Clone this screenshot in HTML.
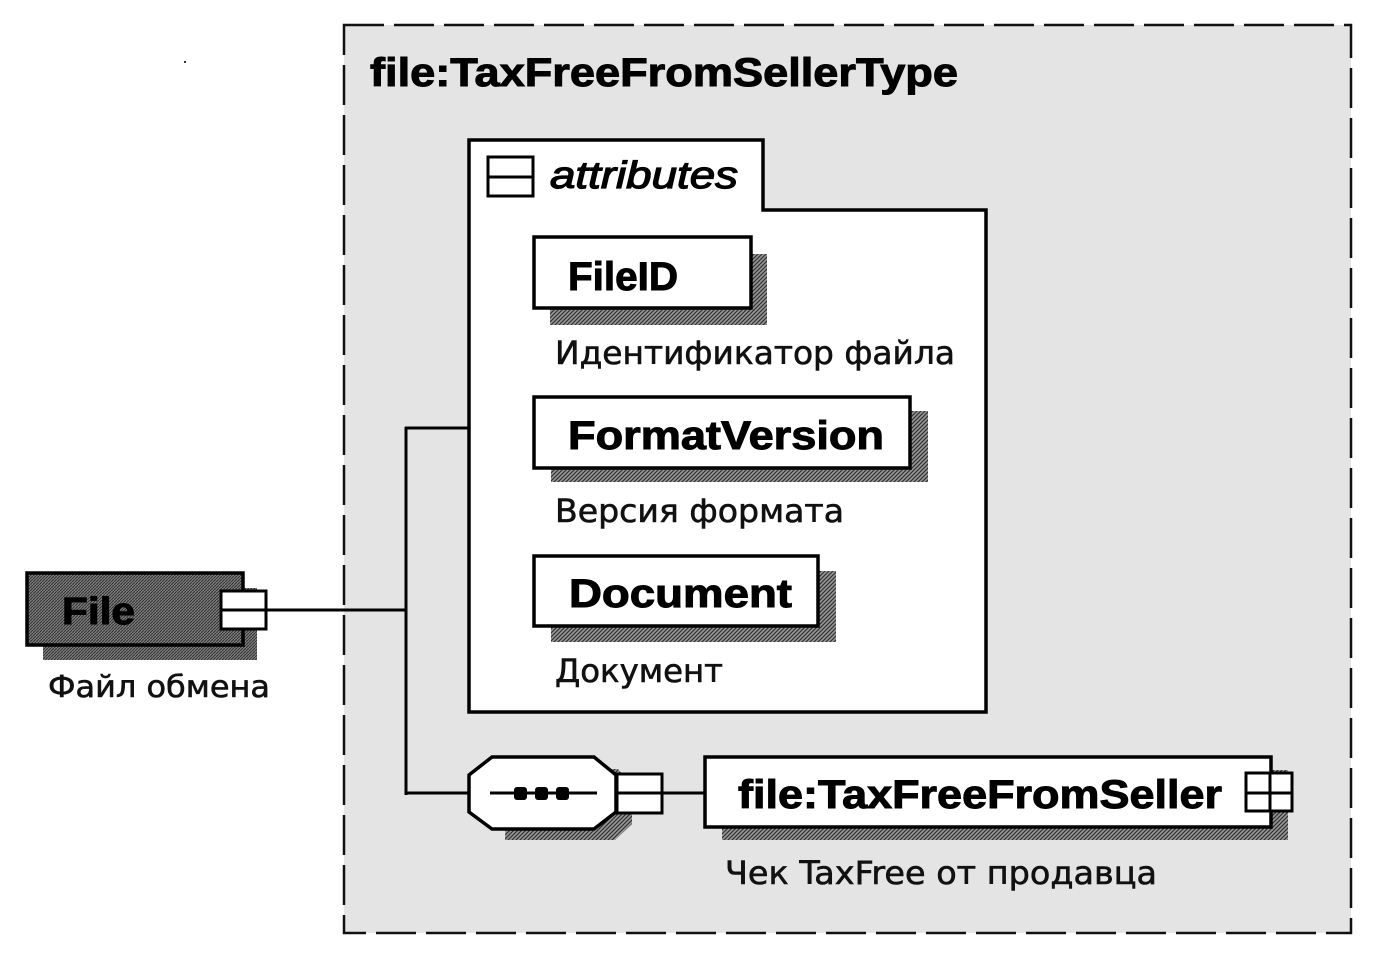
<!DOCTYPE html>
<html><head><meta charset="utf-8">
<style>
html,body{margin:0;padding:0;background:#fff;}
svg{display:block;}
.b{font-family:"Liberation Sans",sans-serif;font-weight:bold;fill:#000;stroke:#000;stroke-width:1;}
.d{font-family:"DejaVu Sans","Liberation Sans",sans-serif;fill:#111;stroke:#111;stroke-width:0.6;}
</style></head>
<body>
<svg width="1380" height="969" viewBox="0 0 1380 969" xmlns="http://www.w3.org/2000/svg">
<defs>
<pattern id="hatch" width="4" height="4" patternUnits="userSpaceOnUse">
<rect width="4" height="4" fill="#9a9a9a"/>
<path d="M0,4 L4,0 M-1,1 L1,-1 M3,5 L5,3" stroke="#333" stroke-width="1.3"/>
</pattern>
<pattern id="dark" width="3" height="3" patternUnits="userSpaceOnUse">
<rect width="3" height="3" fill="#7e7e7e"/>
<path d="M0,3 L3,0" stroke="#333" stroke-width="1.1"/>
</pattern>
</defs>

<!-- stray speck -->
<rect x="184" y="61" width="2" height="2" fill="#333"/>

<!-- dashed container -->
<rect x="344" y="25" width="1007" height="908" fill="#e4e4e4" stroke="#111" stroke-width="2.5" stroke-dasharray="40 10"/>

<text class="b" x="370" y="86" font-size="40" textLength="588" lengthAdjust="spacingAndGlyphs">file:TaxFreeFromSellerType</text>

<!-- connector lines -->
<line x1="267" y1="610" x2="407" y2="610" stroke="#000" stroke-width="3"/>
<line x1="406" y1="427" x2="406" y2="795" stroke="#000" stroke-width="3"/>
<line x1="405" y1="428" x2="470" y2="428" stroke="#000" stroke-width="3"/>
<line x1="405" y1="793" x2="470" y2="793" stroke="#000" stroke-width="3"/>
<line x1="663" y1="793" x2="706" y2="793" stroke="#000" stroke-width="3"/>

<!-- File element -->
<rect x="43" y="588" width="214" height="72" fill="url(#dark)"/>
<rect x="27" y="573" width="216" height="72" fill="url(#dark)" stroke="#000" stroke-width="3.5"/>
<text class="b" x="62" y="624" font-size="38" textLength="73" lengthAdjust="spacingAndGlyphs">File</text>
<rect x="221" y="591" width="45" height="38" fill="#fff" stroke="#000" stroke-width="3"/>
<line x1="222" y1="610" x2="265" y2="610" stroke="#000" stroke-width="3"/>
<text class="d" x="48" y="697" font-size="30" textLength="222" lengthAdjust="spacingAndGlyphs">Файл обмена</text>

<!-- attributes container -->
<path d="M469,140 L763,140 L763,210 L986,210 L986,712 L469,712 Z" fill="#fff" stroke="#000" stroke-width="3.5"/>
<rect x="488" y="157" width="45" height="39" fill="#fff" stroke="#000" stroke-width="3"/>
<line x1="489" y1="177" x2="532" y2="177" stroke="#000" stroke-width="3"/>
<text x="550" y="188" font-family="'Liberation Sans',sans-serif" font-style="italic" font-size="38" textLength="188" lengthAdjust="spacingAndGlyphs" fill="#000" stroke="#000" stroke-width="1.2">attributes</text>

<!-- FileID -->
<rect x="550" y="254" width="217" height="71" fill="url(#hatch)"/>
<rect x="534" y="237" width="217" height="71" fill="#fff" stroke="#000" stroke-width="3.5"/>
<text class="b" x="568" y="290" font-size="40" textLength="110" lengthAdjust="spacingAndGlyphs">FileID</text>
<text class="d" x="555" y="364" font-size="32" textLength="400" lengthAdjust="spacingAndGlyphs">Идентификатор файла</text>

<!-- FormatVersion -->
<rect x="551" y="411" width="377" height="71" fill="url(#hatch)"/>
<rect x="534" y="397" width="376" height="71" fill="#fff" stroke="#000" stroke-width="3.5"/>
<text class="b" x="568" y="449" font-size="40" textLength="316" lengthAdjust="spacingAndGlyphs">FormatVersion</text>
<text class="d" x="555" y="522" font-size="32" textLength="289" lengthAdjust="spacingAndGlyphs">Версия формата</text>

<!-- Document -->
<rect x="551" y="571" width="285" height="71" fill="url(#hatch)"/>
<rect x="534" y="556" width="284" height="70" fill="#fff" stroke="#000" stroke-width="3.5"/>
<text class="b" x="569" y="607" font-size="40" textLength="223" lengthAdjust="spacingAndGlyphs">Document</text>
<text class="d" x="555" y="682" font-size="32" textLength="168" lengthAdjust="spacingAndGlyphs">Документ</text>

<!-- sequence compositor -->
<path d="M507,769 L618,769 L632,786 L632,824 L615,840 L505,840 Z" fill="url(#hatch)"/>
<path d="M492,757 L594,757 L616,775 L616,812 L594,829 L492,829 L469,812 L469,775 Z" fill="#fff" stroke="#000" stroke-width="3.5"/>
<line x1="490" y1="793" x2="597" y2="793" stroke="#000" stroke-width="3"/>
<rect x="514" y="787" width="13" height="13" rx="3" fill="#000"/>
<rect x="535" y="787" width="13" height="13" rx="3" fill="#000"/>
<rect x="556" y="787" width="13" height="13" rx="3" fill="#000"/>
<rect x="617" y="774" width="45" height="39" fill="#fff" stroke="#000" stroke-width="3"/>
<line x1="618" y1="793" x2="661" y2="793" stroke="#000" stroke-width="3"/>

<!-- TaxFreeFromSeller -->
<rect x="722" y="770" width="566" height="70" fill="url(#hatch)"/>
<rect x="705" y="757" width="566" height="70" fill="#fff" stroke="#000" stroke-width="3.5"/>
<text class="b" x="738" y="808" font-size="40" textLength="484" lengthAdjust="spacingAndGlyphs">file:TaxFreeFromSeller</text>
<rect x="1246" y="773" width="46" height="38" fill="#fff" stroke="#000" stroke-width="3"/>
<line x1="1247" y1="793" x2="1291" y2="793" stroke="#000" stroke-width="3"/>
<line x1="1270" y1="774" x2="1270" y2="810" stroke="#000" stroke-width="3"/>
<text class="d" x="725" y="884" font-size="32" textLength="432" lengthAdjust="spacingAndGlyphs">Чек TaxFree от продавца</text>
</svg>
</body></html>
